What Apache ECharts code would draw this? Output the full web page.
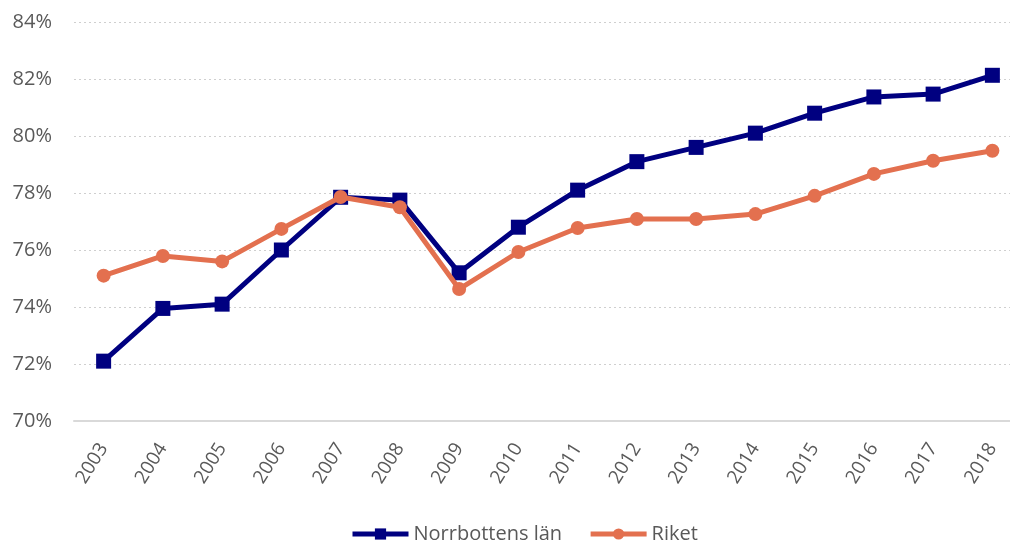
<!DOCTYPE html>
<html>
<head>
<meta charset="utf-8">
<script src="https://cdn.jsdelivr.net/npm/echarts@6/dist/echarts.min.js"></script>
<style>
  html, body { margin: 0; padding: 0; background: #fff; }
  #chart { width: 1010px; height: 543px; }
</style>
</head>
<body>
<div id="chart"></div>
<script>
const years = ['2003', '2004', '2005', '2006', '2007', '2008', '2009', '2010',
   '2011', '2012', '2013', '2014', '2015', '2016', '2017', '2018'];

// andel i procent
const norrbotten = [72.1, 73.95, 74.1, 76.0, 77.85, 77.75, 75.2, 76.8,
   78.1, 79.1, 79.6, 80.1, 80.8, 81.37, 81.47, 82.13];
const riket = [75.1, 75.79, 75.6, 76.74, 77.86, 77.5, 74.63, 75.93,
   76.77, 77.09, 77.09, 77.26, 77.9, 78.67, 79.13, 79.48];

const textColor = '#595959';
const font = 'Open Sans';

const chart = echarts.init(document.getElementById('chart'));

chart.setOption({
   animation: false,
   grid: { left: 74, top: 22, width: 948, height: 399, outerBoundsMode: 'none', containLabel: false },
   legend: {
      top: 519,
      left: 345,
      itemWidth: 56,
      itemHeight: 14,
      itemGap: 26,
      lineStyle: { width: 5 },
      textStyle: { color: textColor, fontSize: 20, fontFamily: font },
      data: ['Norrbottens län', 'Riket']
   },
   xAxis: {
      type: 'category',
      data: years,
      boundaryGap: true,
      axisLine: { lineStyle: { color: '#d9d9d9', width: 2 } },
      axisTick: { show: false },
      axisLabel: {
         color: textColor,
         fontSize: 19,
         fontFamily: font,
         rotate: 58,
         margin: 24,
         interval: 0
      }
   },
   yAxis: {
      type: 'value',
      min: 70,
      max: 84,
      interval: 2,
      axisLine: { show: false },
      axisTick: { show: false },
      axisLabel: {
         color: textColor,
         fontSize: 20,
         fontFamily: font,
         margin: 22,
         formatter: v => v + '%'
      },
      splitLine: { lineStyle: { color: '#cfcfcf', type: [2, 3], width: 1 } }
   },
   series: [
      {
         name: 'Norrbottens län',
         type: 'line',
         data: norrbotten,
         symbol: 'rect',
         symbolSize: 15,
         lineStyle: { color: '#000080', width: 5 },
         itemStyle: { color: '#000080' },
         z: 2
      },
      {
         name: 'Riket',
         type: 'line',
         data: riket,
         symbol: 'circle',
         symbolSize: 14,
         lineStyle: { color: '#E3704F', width: 5 },
         itemStyle: { color: '#E3704F' },
         z: 3
      }
   ]
});
</script>
</body>
</html>
